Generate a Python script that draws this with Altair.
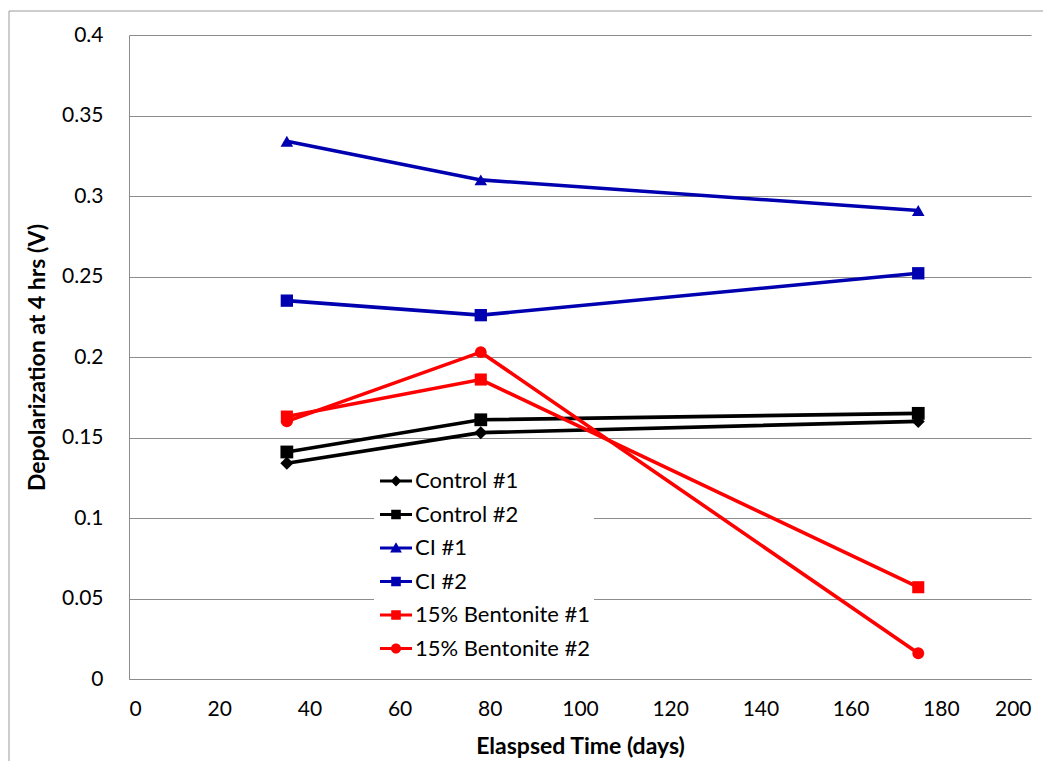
import altair as alt
import pandas as pd

# ---- data ----
DAYS = [35, 78, 175]
SERIES = ["Control #1", "Control #2", "CI #1", "CI #2", "15% Bentonite #1", "15% Bentonite #2"]
CONTROL_1 = [0.134, 0.153, 0.160]
CONTROL_2 = [0.141, 0.161, 0.165]
CI_1 = [0.334, 0.310, 0.291]
CI_2 = [0.235, 0.226, 0.252]
BENTONITE_1 = [0.163, 0.186, 0.057]
BENTONITE_2 = [0.160, 0.203, 0.016]
X_TICKS = [0, 20, 40, 60, 80, 100, 120, 140, 160, 180, 200]
Y_TICKS = [0, 0.05, 0.1, 0.15, 0.2, 0.25, 0.3, 0.35, 0.4]

COLORS = ["#000000", "#000000", "#0000B0", "#0000B0", "#FF0000", "#FF0000"]
SHAPES = ["diamond", "square", "triangle-up", "square", "square", "circle"]
MARKER_SIZES = [170, 140, 230, 140, 140, 150]

# legend symbols: a line segment with the marker in its middle (custom SVG paths)
LINE = "M-1,-0.1L1,-0.1L1,0.1L-1,0.1Z"
DIAMOND = "M0,-0.34L0.34,0L0,0.34L-0.34,0Z"
SQUARE = "M-0.3,-0.3L0.3,-0.3L0.3,0.3L-0.3,0.3Z"
TRIANGLE = "M0,-0.36L0.37,0.28L-0.37,0.28Z"
CIRCLE = "M0.32,0A0.32,0.32,0,1,1,-0.32,0A0.32,0.32,0,1,1,0.32,0Z"
LEGEND_SHAPES = [LINE + m for m in [DIAMOND, SQUARE, TRIANGLE, SQUARE, SQUARE, CIRCLE]]

values = [CONTROL_1, CONTROL_2, CI_1, CI_2, BENTONITE_1, BENTONITE_2]
rows = []
for name, vals in zip(SERIES, values):
    for d, v in zip(DAYS, vals):
        rows.append({"series": name, "days": d, "depol": v})
df = pd.DataFrame(rows)

FONT = "Lato"

x = alt.X("days:Q", scale=alt.Scale(domain=[0, 200], nice=False, zero=True),
          axis=alt.Axis(values=X_TICKS, title="Elaspsed Time (days)", grid=False,
                        ticks=False, labelPadding=19, titlePadding=16, format="d"))
y = alt.Y("depol:Q", scale=alt.Scale(domain=[0, 0.4], nice=False),
          axis=alt.Axis(values=Y_TICKS, title="Depolarization at 4 hrs (V)", grid=True,
                        ticks=False, labelPadding=26, titlePadding=12, format="~g"))

color_plain = alt.Color("series:N", scale=alt.Scale(domain=SERIES, range=COLORS), legend=None)

lines = alt.Chart(df).mark_line(strokeWidth=3.6).encode(
    x=x, y=y, color=color_plain, detail="series:N")

points = alt.Chart(df).mark_point(filled=True, opacity=1).encode(
    x=x, y=y, color=color_plain,
    shape=alt.Shape("series:N", scale=alt.Scale(domain=SERIES, range=SHAPES), legend=None),
    size=alt.Size("series:N", scale=alt.Scale(domain=SERIES, range=MARKER_SIZES), legend=None))

legend_opts = dict(title=None, orient="none", legendX=245, legendY=427,
                   fillColor="white", padding=3, symbolOffset=3,
                   symbolSize=1024, rowPadding=6.5, labelOffset=3,
                   labelFont=FONT, labelFontSize=22, labelColor="black",
                   symbolOpacity=1, symbolStrokeWidth=0, labelLimit=400)

legend_layer = alt.Chart(df).transform_filter("false").mark_point(filled=True, opacity=1).encode(
    x=x, y=y,
    color=alt.Color("series:N", scale=alt.Scale(domain=SERIES, range=COLORS),
                    legend=alt.Legend(**legend_opts)),
    shape=alt.Shape("series:N", scale=alt.Scale(domain=SERIES, range=LEGEND_SHAPES),
                    legend=alt.Legend(**legend_opts)))

# outer chart border (decoration)
frame_df = pd.DataFrame({"k": [0]})
border_top = alt.Chart(frame_df).mark_rule(color="#9a9a9a", strokeWidth=1).encode(
    x=alt.value(-120), x2=alt.value(914), y=alt.value(-24))
border_left = alt.Chart(frame_df).mark_rule(color="#9a9a9a", strokeWidth=1).encode(
    x=alt.value(-120), y=alt.value(-24), y2=alt.value(726))

chart = alt.layer(border_top, border_left, lines, points, legend_layer).resolve_scale(
    color="independent", shape="independent", size="independent"
).properties(
    width=902, height=644,
    padding={"left": 0, "top": 2, "right": 0, "bottom": 0},
    background="white",
).configure_view(stroke=None).configure_axis(
    labelFont=FONT, labelFontSize=21, labelColor="black",
    titleFont=FONT, titleFontSize=23, titleFontWeight="bold", titleColor="black",
    gridColor="#8c8c8c", gridWidth=1, domainColor="#8c8c8c", domainWidth=1,
)

chart.save("out.html", embed_options={"renderer": "svg", "actions": False})
